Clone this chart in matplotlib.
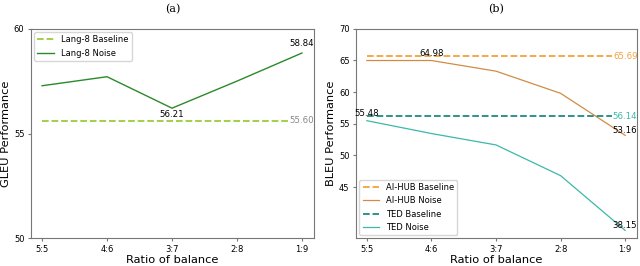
import matplotlib
matplotlib.use("Agg")
import matplotlib.pyplot as plt

ratios = ["5:5", "4:6", "3:7", "2:8", "1:9"]

lang8_baseline = 55.60
lang8_noise = [57.28, 57.71, 56.21, 57.50, 58.84]

aihub_baseline = 65.69
aihub_noise = [64.98, 64.98, 63.30, 59.80, 53.16]
ted_baseline = 56.14
ted_noise = [55.48, 53.45, 51.65, 46.80, 38.15]

x = list(range(len(ratios)))

fig = plt.figure(figsize=(6.4, 2.66), dpi=100)
ax1 = fig.add_axes([0.048, 0.104, 0.443, 0.788])
ax2 = fig.add_axes([0.556, 0.104, 0.439, 0.788])

def style(ax):
    for s in ax.spines.values():
        s.set_color("#777777")
    ax.tick_params(labelsize=6, length=2.5, color="#777777", pad=2)
    ax.set_xticks(x)
    ax.set_xticklabels(ratios)
    ax.set_xlabel("Ratio of balance", fontsize=8.2, labelpad=1)

def label(ax, xi, y, s, va="bottom", color="black", bg=False):
    kw = {}
    if bg:
        # white box hides the end of the dashed line, stays under the spines
        kw["bbox"] = dict(facecolor="white", edgecolor="none", pad=0.5)
        kw["zorder"] = 2.2
    ax.text(xi, y, s, ha="center", va=va, fontsize=6.2, color=color, **kw)

# (a)
ax1.plot(x, [lang8_baseline] * len(x), "--", color="#9acd3c", lw=1.3, label="Lang-8 Baseline")
ax1.plot(x, lang8_noise, "-", color="#2a8a2a", lw=1.0, label="Lang-8 Noise")
ax1.set_ylim(50, 60)
ax1.set_yticks([50, 55, 60])
ax1.set_xlim(-0.175, 4.19)
ax1.set_ylabel("GLEU Performance", fontsize=8.2, labelpad=2)
style(ax1)
label(ax1, 4, lang8_noise[4] + 0.25, "58.84")
label(ax1, 2, lang8_noise[2] - 0.1, "56.21", va="top")
label(ax1, 4, lang8_baseline, "55.60", va="center", color="#888888", bg=True)
ax1.legend(loc="upper left", fontsize=6, handlelength=2.0, borderaxespad=0.4)
ax1.set_title("(a)", fontsize=8, family="serif", pad=12)

# (b)
ax2.plot(x, [aihub_baseline] * len(x), "--", color="#f2a23c", lw=1.3, label="AI-HUB Baseline")
ax2.plot(x, aihub_noise, "-", color="#d08c46", lw=0.9, label="AI-HUB Noise")
ax2.plot(x, [ted_baseline] * len(x), "--", color="#1f8a80", lw=1.3, label="TED Baseline")
ax2.plot(x, ted_noise, "-", color="#3bb8aa", lw=0.9, label="TED Noise")
ax2.set_ylim(36.9, 70)
ax2.set_yticks([45, 50, 55, 60, 65, 70])
ax2.set_xlim(-0.17, 4.18)
ax2.set_ylabel("BLEU Performance", fontsize=8.2, labelpad=2)
style(ax2)
label(ax2, 1, aihub_noise[1] + 0.4, "64.98")
label(ax2, 4, aihub_noise[4] + 0.1, "53.16")
label(ax2, 0, ted_noise[0] + 0.4, "55.48")
label(ax2, 4, ted_noise[4] + 0.1, "38.15")
label(ax2, 4, aihub_baseline, "65.69", va="center", color="#f2a23c", bg=True)
label(ax2, 4, ted_baseline, "56.14", va="center", color="#3bb8aa", bg=True)
ax2.legend(loc="lower left", fontsize=6, handlelength=2.0, borderaxespad=0.4)
ax2.set_title("(b)", fontsize=8, family="serif", pad=12)

fig.savefig("out.png", dpi=100)
